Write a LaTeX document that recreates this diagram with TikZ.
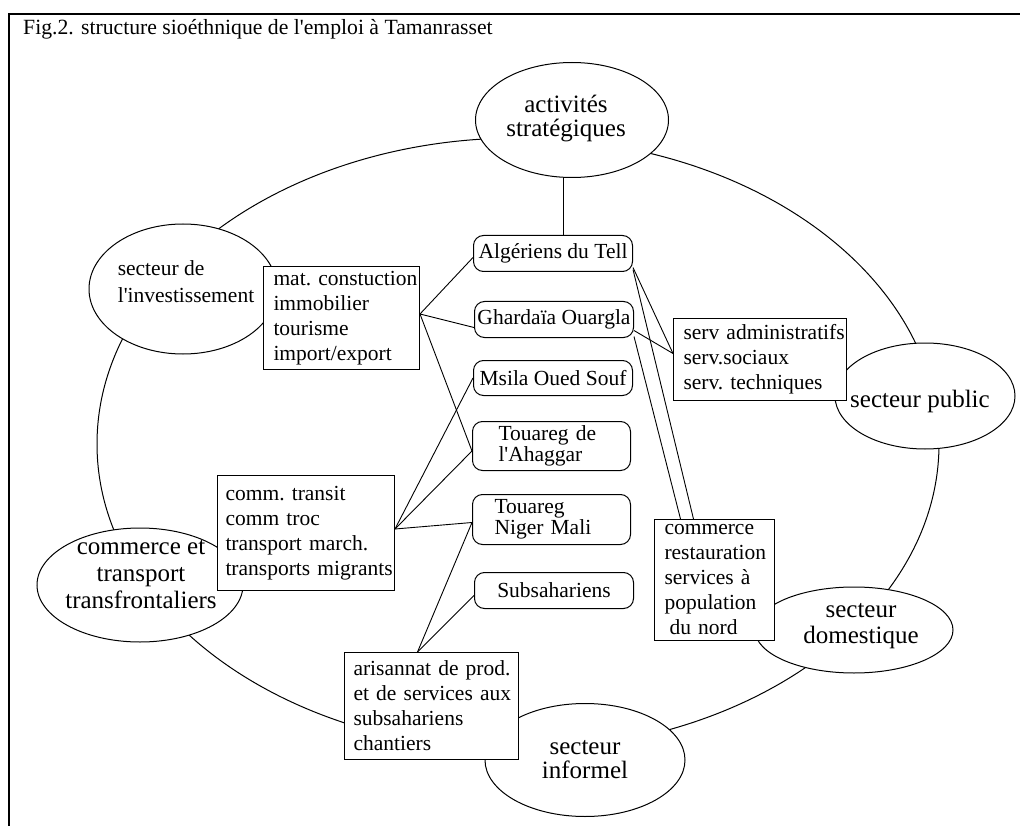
\documentclass[tikz,border=0pt]{standalone}
\usepackage{fontspec}
\setmainfont{Liberation Serif}[Ligatures=TeXOff]
\usetikzlibrary{shapes.geometric,calc}
\begin{document}
\hyphenpenalty=10000
\exhyphenpenalty=10000
\begin{tikzpicture}[x=1pt,y=-1pt,
  ell/.style={draw, fill=white, ellipse, inner sep=0pt, line width=1pt},
  etext/.style={font=\fontsize{25}{25}\selectfont, align=center, inner sep=0pt},
  ebox/.style={draw, fill=white, rectangle, rounded corners=10pt, inner sep=0pt, line width=1pt,
     anchor=north west, font=\fontsize{21.5}{19}\selectfont, align=center},
  tbox/.style={draw, fill=white, rectangle, inner ysep=0pt, line width=1pt,
     anchor=north west, align=left, font=\fontsize{21.5}{25}\selectfont},
  link/.style={line width=0.9pt},
]
\fill[white] (0,0) rectangle (1020,826);
\useasboundingbox (0,0) rectangle (1020,826);

% big ring
\coordinate (ringc) at (518,444);
\draw[line width=1pt] (ringc) ellipse [x radius=421pt, y radius=306pt];

% sector ellipses
\node[ell, minimum width=193pt, minimum height=115pt,
  label={[etext, font=\fontsize{25}{24}\selectfont, xshift=-6pt, yshift=1.5pt]center:activités\\stratégiques}] (act) at (572,120) {};
\node[ell, minimum width=188pt, minimum height=130pt,
  label={[etext, align=left, font=\fontsize{21.5}{27}\selectfont, xshift=3pt, yshift=7.5pt]center:secteur de\\l'investissement}] (inv) at (183,289) {};
\node[ell, minimum width=206pt, minimum height=114pt,
  label={[etext, font=\fontsize{25}{27}\selectfont, xshift=1pt, yshift=10pt]center:commerce et\\transport\\transfrontaliers}] (cte) at (140,585) {};
\node[ell, minimum width=180pt, minimum height=106pt,
  label={[etext, xshift=-5pt, yshift=-5pt]center:secteur public}] (pub) at (925,396) {};
\node[ell, minimum width=198pt, minimum height=86pt,
  label={[etext, font=\fontsize{25}{26}\selectfont, xshift=7pt, yshift=3.5pt]center:secteur\\domestique}] (dom) at (854,630) {};
\node[ell, minimum width=200pt, minimum height=113pt,
  label={[etext, font=\fontsize{25}{24}\selectfont]center:secteur\\informel}] (inf) at (585,760) {};

% activity boxes
\node[tbox, minimum height=103pt, inner xsep=10pt, text width=136pt] (mat) at (263,266)
  {mat.~constuction\\immobilier\\tourisme\\import/export};
\node[tbox, minimum height=115pt, inner xsep=8pt, text width=161pt] (comm) at (217,475)
  {comm.~transit\\comm~troc\\transport~march.\\transports~migrants};
\node[tbox, minimum height=82pt, inner xsep=10pt, text width=153pt] (serv) at (673,318)
  {serv~administratifs\\serv.sociaux\\serv.~techniques};
\node[tbox, minimum height=121pt, inner xsep=10pt, text width=100pt] (com) at (654,519)
  {commerce\\restauration\\services~à\\population\\\hspace*{5pt}du~nord};
\node[tbox, minimum height=107pt, inner xsep=9pt, text width=156pt] (ari) at (344,652)
  {arisannat~de~prod.\\et~de~services~aux\\subsahariens\\chantiers};

% population boxes
\node[ebox, minimum width=159pt, minimum height=36pt] (alg) at (473,235) {Algériens du Tell};
\node[ebox, minimum width=159pt, minimum height=36pt] (gha) at (474,301) {Ghardaïa Ouargla};
\node[ebox, minimum width=159pt, minimum height=35pt] (msila) at (473,360) {Msila Oued Souf};
\node[ebox, minimum height=49pt, inner xsep=26pt, text width=106pt, align=left] (tdeA) at (472,421)
  {Touareg~de\\l'Ahaggar};
\node[ebox, minimum height=50pt, inner xsep=22pt, text width=114pt, align=left] (tnm) at (472,494)
  {Touareg\\Niger~Mali};
\node[ebox, minimum width=159pt, minimum height=36pt] (sub) at (474,572) {Subsahariens};

% connectors
\coordinate (actb) at ([xshift=-9pt]act.south);
\coordinate (matR) at ([yshift=4pt]mat.east);
\coordinate (commR) at ([yshift=4pt]comm.east);
\coordinate (ariT) at ([xshift=-14pt]ari.north);
\coordinate (servL) at ([yshift=6pt]serv.west);

\draw[link] (actb) -- (actb |- alg.north);
\draw[link] (matR) -- ([yshift=-4pt]alg.west);
\draw[link] (matR) -- ([yshift=-8pt]gha.west);
\draw[link] (matR) -- ([yshift=-5pt]tdeA.west);
\draw[link] (commR) -- (msila.west);
\draw[link] (commR) -- ([yshift=-5pt]tdeA.west);
\draw[link] (commR) -- ([yshift=-3pt]tnm.west);
\draw[link] (ariT) -- ([yshift=-3pt]tnm.west);
\draw[link] (ariT) -- ([yshift=-5pt]sub.west);
\draw[link] ([yshift=-14pt]alg.east) -- (servL);
\draw[link] ([yshift=-16pt]alg.east) -- ([xshift=-21pt]com.north);
\draw[link] ([yshift=-11pt]gha.east) -- (servL);
\draw[link] ([yshift=-17pt]gha.east) -- ([xshift=-34pt]com.north);

% title and frame
\node[anchor=base west, inner sep=0pt, font=\fontsize{21.7}{24}\selectfont] (title) at (23,35)
  {Fig.2. structure sioéthnique de l'emploi à Tamanrasset};
\draw[line width=2.2pt] (9,826) -- (9,14) -- (1020,14);
\end{tikzpicture}
\end{document}
